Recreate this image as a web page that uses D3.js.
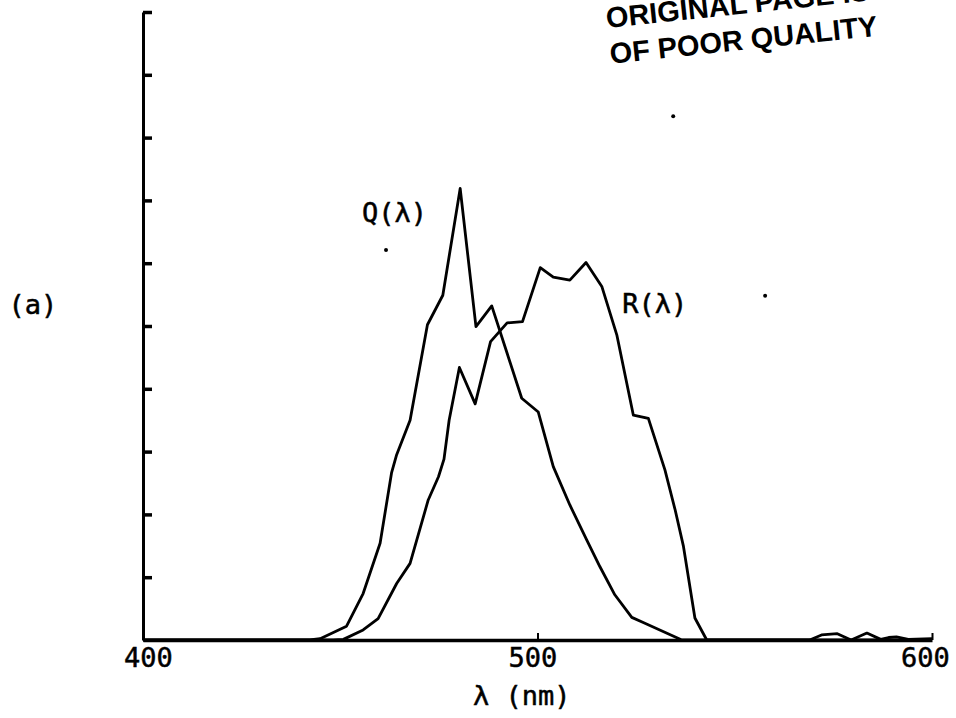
<!DOCTYPE html>
<html>
<head>
<meta charset="utf-8">
<script src="https://cdn.jsdelivr.net/npm/d3@7"></script>
<style>
  html, body { margin: 0; padding: 0; background: #fff; }
  svg { display: block; }
</style>
</head>
<body>
<div id="chart"></div>
<script>
// wavelength (nm) and relative response (y in tick units 0..10)
const qLambda = [400, 442.3, 444.9, 451.6, 455.8, 460.1, 463.0, 464.3, 467.7, 472.1, 476.0, 480.4,
                 484.4, 488.4, 496.0, 500.2, 504.0, 508.2, 512.5, 515.8, 519.6, 523.9, 526.8, 536.6, 600];
const qValue  = [0, 0, 0.02, 0.22, 0.74, 1.54, 2.66, 2.95, 3.50, 5.02, 5.49, 7.19,
                 4.99, 5.32, 3.85, 3.63, 2.76, 2.15, 1.59, 1.17, 0.72, 0.36, 0.28, 0, 0];

const rLambda = [400, 448.2, 450.8, 455.8, 459.6, 464.3, 467.7, 472.3, 474.9, 476.3, 477.6, 480.2,
                 484.2, 488.1, 492.3, 496.2, 500.7, 504.0, 508.2, 512.3, 516.3, 520.1, 524.3, 528.1,
                 532.3, 534.9, 537.0, 539.9, 542.9, 569.0, 572.0, 576.0, 579.5, 583.5, 587.0, 589.0,
                 591.0, 594.0, 600];
const rValue  = [0, 0, 0.01, 0.16, 0.34, 0.90, 1.22, 2.23, 2.60, 2.88, 3.50, 4.34,
                 3.76, 4.75, 5.05, 5.07, 5.93, 5.78, 5.73, 6.01, 5.63, 4.86, 3.58, 3.53,
                 2.71, 2.07, 1.49, 0.35, 0, 0, 0.08, 0.10, 0, 0.11, 0.01, 0.04,
                 0.05, 0.01, 0.02];

const xTicks = [400, 500, 600];
const yTicks = [1, 2, 3, 4, 5, 6, 7, 8, 9, 10];

// curve labels placed in data units
const curveLabels = [
  { text: "Q(λ)", x: 455.5, y: 6.65 },
  { text: "R(λ)", x: 521.5, y: 5.2 }
];
// stray specks from the scan
const specks = [[461.6, 6.21], [534.4, 8.34], [557.7, 5.48]];

const width = 956, height = 718;
const font = "'DejaVu Sans Mono', monospace";

const x = d3.scaleLinear().domain([400, 600]).range([143, 932]);
const y = d3.scaleLinear().domain([0, 10]).range([640, 12]);

const svg = d3.select("#chart").append("svg")
  .attr("width", width)
  .attr("height", height)
  .attr("viewBox", [0, 0, width, height]);

// plotter lettering: a touch heavier than the regular face
function letter(sel) {
  sel.attr("font-family", font)
    .attr("font-size", 27)
    .attr("fill", "#000")
    .attr("stroke", "#000")
    .attr("stroke-width", 0.5);
}

// y axis, ticks pointing inward
const yAxis = svg.append("g")
  .attr("transform", `translate(${x(400)},0)`)
  .call(d3.axisRight(y).tickValues(yTicks).tickSize(9).tickSizeOuter(0).tickFormat(""));
yAxis.select(".domain").attr("stroke-width", 3);
yAxis.selectAll(".tick line").attr("stroke-width", 3.5);

// x axis, short ticks pointing up
const xAxis = svg.append("g")
  .attr("transform", `translate(0,${y(0)})`)
  .call(d3.axisBottom(x).tickValues(xTicks).tickSize(-7).tickSizeOuter(0).tickPadding(8));
xAxis.select(".domain").attr("stroke-width", 3.5);
xAxis.selectAll(".tick line").attr("stroke-width", 2);
xAxis.selectAll(".tick text").call(letter)
  .attr("dx", d => d === 400 ? 5 : d === 600 ? -7 : -5);

svg.append("text")
  .attr("x", x(496))
  .attr("y", 705)
  .attr("text-anchor", "middle")
  .call(letter)
  .text("λ (nm)");

svg.append("text")
  .attr("x", 33)
  .attr("y", 314)
  .attr("text-anchor", "middle")
  .call(letter)
  .text("(a)");

const line = d3.line()
  .x(d => x(d[0]))
  .y(d => y(d[1]));

const series = [d3.zip(qLambda, qValue), d3.zip(rLambda, rValue)];

svg.append("g")
  .attr("fill", "none")
  .attr("stroke", "#000")
  .attr("stroke-width", 2.8)
  .attr("stroke-linejoin", "round")
  .selectAll("path")
  .data(series)
  .join("path")
  .attr("d", line);

svg.append("g")
  .selectAll("text")
  .data(curveLabels)
  .join("text")
  .attr("x", d => x(d.x))
  .attr("y", d => y(d.y))
  .call(letter)
  .text(d => d.text);

svg.append("g")
  .selectAll("circle")
  .data(specks)
  .join("circle")
  .attr("cx", d => x(d[0]))
  .attr("cy", d => y(d[1]))
  .attr("r", 2);

// rubber stamp, slightly rotated
const stamp = svg.append("g")
  .attr("transform", "translate(607,28) rotate(-6)")
  .attr("font-family", "'Liberation Sans', Arial, sans-serif")
  .attr("font-weight", "bold")
  .attr("font-size", 29);
stamp.append("text").attr("x", 0).attr("y", 0).text("ORIGINAL PAGE IS");
stamp.append("text").attr("x", 0).attr("y", 36).text("OF POOR QUALITY");
</script>
</body>
</html>
